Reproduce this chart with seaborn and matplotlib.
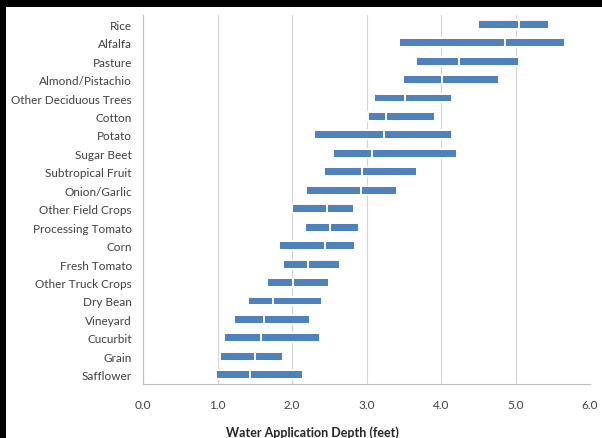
import numpy as np
import pandas as pd
import matplotlib
matplotlib.use("Agg")
from matplotlib import pyplot as plt
from matplotlib.patches import Rectangle
import seaborn as sns

crops = ["Rice", "Alfalfa", "Pasture", "Almond/Pistachio", "Other Deciduous Trees",
         "Cotton", "Potato", "Sugar Beet", "Subtropical Fruit", "Onion/Garlic",
         "Other Field Crops", "Processing Tomato", "Corn", "Fresh Tomato",
         "Other Truck Crops", "Dry Bean", "Vineyard", "Cucurbit", "Grain", "Safflower"]
low = [4.50, 3.44, 3.66, 3.49, 3.10, 3.02, 2.29, 2.55, 2.43, 2.19,
       2.00, 2.18, 1.82, 1.88, 1.66, 1.41, 1.22, 1.09, 1.04, 0.98]
mid = [5.05, 4.86, 4.24, 4.02, 3.52, 3.26, 3.24, 3.08, 2.94, 2.92,
       2.47, 2.51, 2.44, 2.21, 2.01, 1.74, 1.63, 1.58, 1.50, 1.44]
high = [5.45, 5.66, 5.05, 4.78, 4.15, 3.92, 4.15, 4.21, 3.68, 3.41,
        2.83, 2.90, 2.84, 2.64, 2.49, 2.40, 2.24, 2.38, 1.88, 2.15]
xticks = [0.0, 1.0, 2.0, 3.0, 4.0, 5.0, 6.0]

df = pd.DataFrame({"Crop": crops, "low": low, "mid": mid, "high": high})
df["lower"] = df["mid"] - df["low"]
df["upper"] = df["high"] - df["mid"]

sns.set_style("white")
plt.rcParams["font.family"] = ["Lato", "DejaVu Sans"]
txt = "#404040"
blue = "#4f81bd"

fig = plt.figure(figsize=(6.02, 4.39), dpi=100, facecolor="white")
# black frame along the top and left edges of the screenshot
for r in [(0, 1 - 8 / 439, 1, 8 / 439), (0, 0, 6 / 602, 1)]:
    fig.patches.append(Rectangle(r[:2], r[2], r[3], transform=fig.transFigure,
                                 facecolor="black", edgecolor="none", zorder=-1))
ax = fig.add_axes([143 / 602, 1 - 385 / 439, (590 - 143) / 602, (385 - 16) / 439])
ax.set_facecolor("none")

sns.barplot(data=df, y="Crop", x="lower", order=crops, orient="y", color=blue,
            saturation=1, width=0.48, errorbar=None, left=df["low"].values,
            edgecolor="white", linewidth=1.4, ax=ax, zorder=3)
sns.barplot(data=df, y="Crop", x="upper", order=crops, orient="y", color=blue,
            saturation=1, width=0.48, errorbar=None, left=df["mid"].values,
            edgecolor="white", linewidth=1.4, ax=ax, zorder=3)

ax.set_xlim(0, 6)
ax.set_ylim(len(crops) - 0.5, -0.5)
ax.set_xticks(xticks)
ax.set_xticklabels(["%.1f" % v for v in xticks], fontsize=8.5, color=txt)
ax.set_yticks(range(len(crops)))
ax.set_yticklabels(crops, fontsize=8.5, color=txt)
ax.set_yticks(np.arange(-0.5, len(crops), 1), minor=True)
ax.tick_params(axis="y", which="major", length=0, pad=8)
ax.tick_params(axis="y", which="minor", length=4, color="#bfbfbf", direction="out")
ax.tick_params(axis="x", length=4, color="#bfbfbf", direction="out", pad=7)

ax.grid(axis="x", color="#d4d4d4", linewidth=0.8, zorder=0)
ax.set_axisbelow(True)
for s in ["top", "right"]:
    ax.spines[s].set_visible(False)
for s in ["left", "bottom"]:
    ax.spines[s].set_color("#bfbfbf")
    ax.spines[s].set_linewidth(0.8)

ax.set_ylabel("")
ax.set_xlabel("Water Application Depth (feet)", fontsize=9, fontweight="bold",
              color="#262626")
ax.xaxis.set_label_coords(0.378, -0.112)

plt.savefig("out.png", dpi=100, facecolor=fig.get_facecolor())
